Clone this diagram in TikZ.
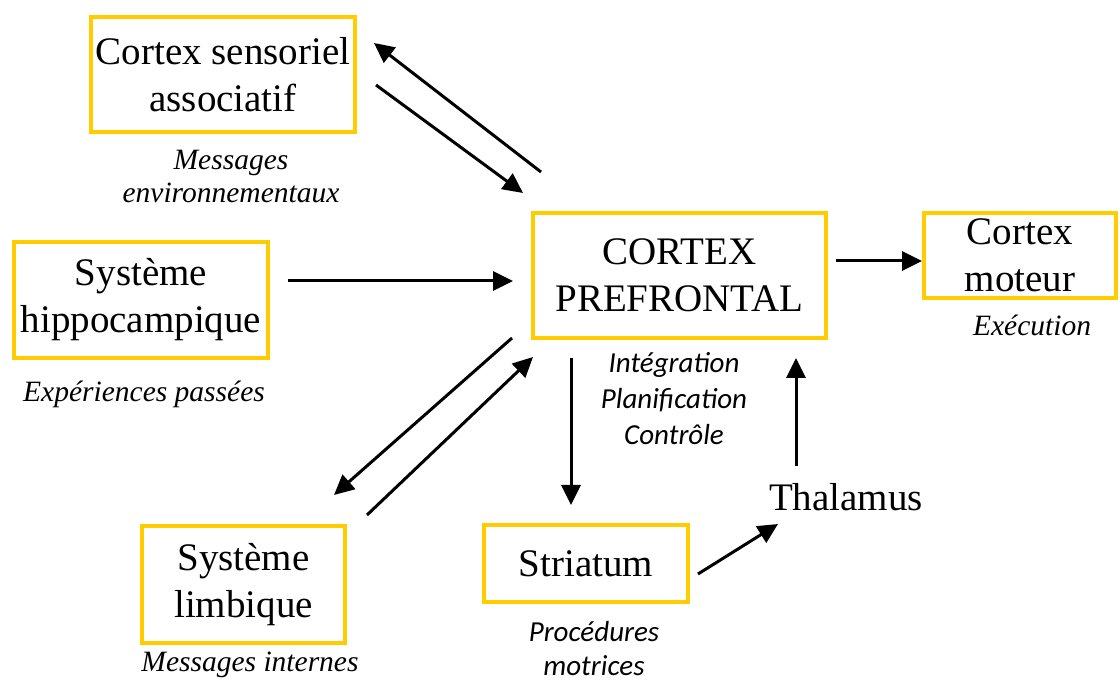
\documentclass[tikz,border=0pt]{standalone}
\usepackage{fontspec}
\setmainfont{Liberation Serif}
\newfontfamily\carlito{Carlito}
\usetikzlibrary{arrows.meta}
\definecolor{gold}{RGB}{255,204,0}
\tikzset{
  goldbox/.style={draw=gold, line width=4pt, align=center, inner sep=0pt,
    font=\fontsize{39}{47}\selectfont},
  captxt/.style={align=center, inner sep=0pt, font=\fontsize{29.5}{33}\selectfont\itshape},
  capcal/.style={align=center, inner sep=0pt, font=\fontsize{29}{36}\selectfont\carlito\itshape},
  plaintxt/.style={align=center, inner sep=0pt, font=\fontsize{39}{47}\selectfont},
  arr/.style={line width=3pt, -{Triangle[length=20pt,width=19pt]}}
}
\begin{document}
\begin{tikzpicture}[x=1pt,y=-1pt]
\useasboundingbox (0,0) rectangle (1120,684);
\fill[white] (0,0) rectangle (1120,684);
% boxes
\node[goldbox, minimum width=264pt, minimum height=115pt] (sens) at (223,74.5) {Cortex sensoriel\\associatif};
\node[goldbox, minimum width=254pt, minimum height=116pt] (hippo) at (141,300) {Système\\hippocampique};
\node[goldbox, minimum width=293pt, minimum height=125pt] (pfc) at (679.5,275.5) {CORTEX\\PREFRONTAL};
\node[goldbox, minimum width=192pt, minimum height=85pt] (mot) at (1020,255.5) {Cortex\\moteur};
\node[goldbox, minimum width=203pt, minimum height=117pt] (limb) at (243.5,584.5) {Système\\limbique};
\node[goldbox, minimum width=204pt, minimum height=77pt] (stri) at (586,563.5) {Striatum};
\node[plaintxt] (thal) at (846,497) {Thalamus};
% captions
\node[captxt] (env) at (231,177) {Messages\\environnementaux};
\node[captxt] (pass) at (144,394) {Expériences passées};
\node[capcal] (integ) at (674,399) {Intégration\\Planification\\Contrôle};
\node[captxt] (exec) at (1032,325) {Exécution};
\node[captxt] (intern) at (250,665) {Messages internes};
\node[capcal, font=\fontsize{29}{34}\selectfont\carlito\itshape] (proc) at (594,649) {Procédures\\motrices};
% arrow end points
\coordinate (a1s) at (541,172); \coordinate (a1e) at (374,43);
\coordinate (a2s) at (376,85);  \coordinate (a2e) at (523,193);
\coordinate (a3s) at (288,281); \coordinate (a3e) at (513,281);
\coordinate (a4s) at (836,261); \coordinate (a4e) at (922,261);
\coordinate (a5s) at (512,338); \coordinate (a5e) at (334,495);
\coordinate (a6s) at (367,515); \coordinate (a6e) at (533,357);
\coordinate (a7s) at (571,358); \coordinate (a7e) at (571,505);
\coordinate (a8s) at (698,574); \coordinate (a8e) at (778,524);
\coordinate (a9s) at (796,466); \coordinate (a9e) at (796,358);
\draw[arr] (a1s) -- (a1e);
\draw[arr] (a2s) -- (a2e);
\draw[arr] (a3s) -- (a3e);
\draw[arr] (a4s) -- (a4e);
\draw[arr] (a5s) -- (a5e);
\draw[arr] (a6s) -- (a6e);
\draw[arr] (a7s) -- (a7e);
\draw[arr] (a8s) -- (a8e);
\draw[arr] (a9s) -- (a9e);
\end{tikzpicture}
\end{document}
